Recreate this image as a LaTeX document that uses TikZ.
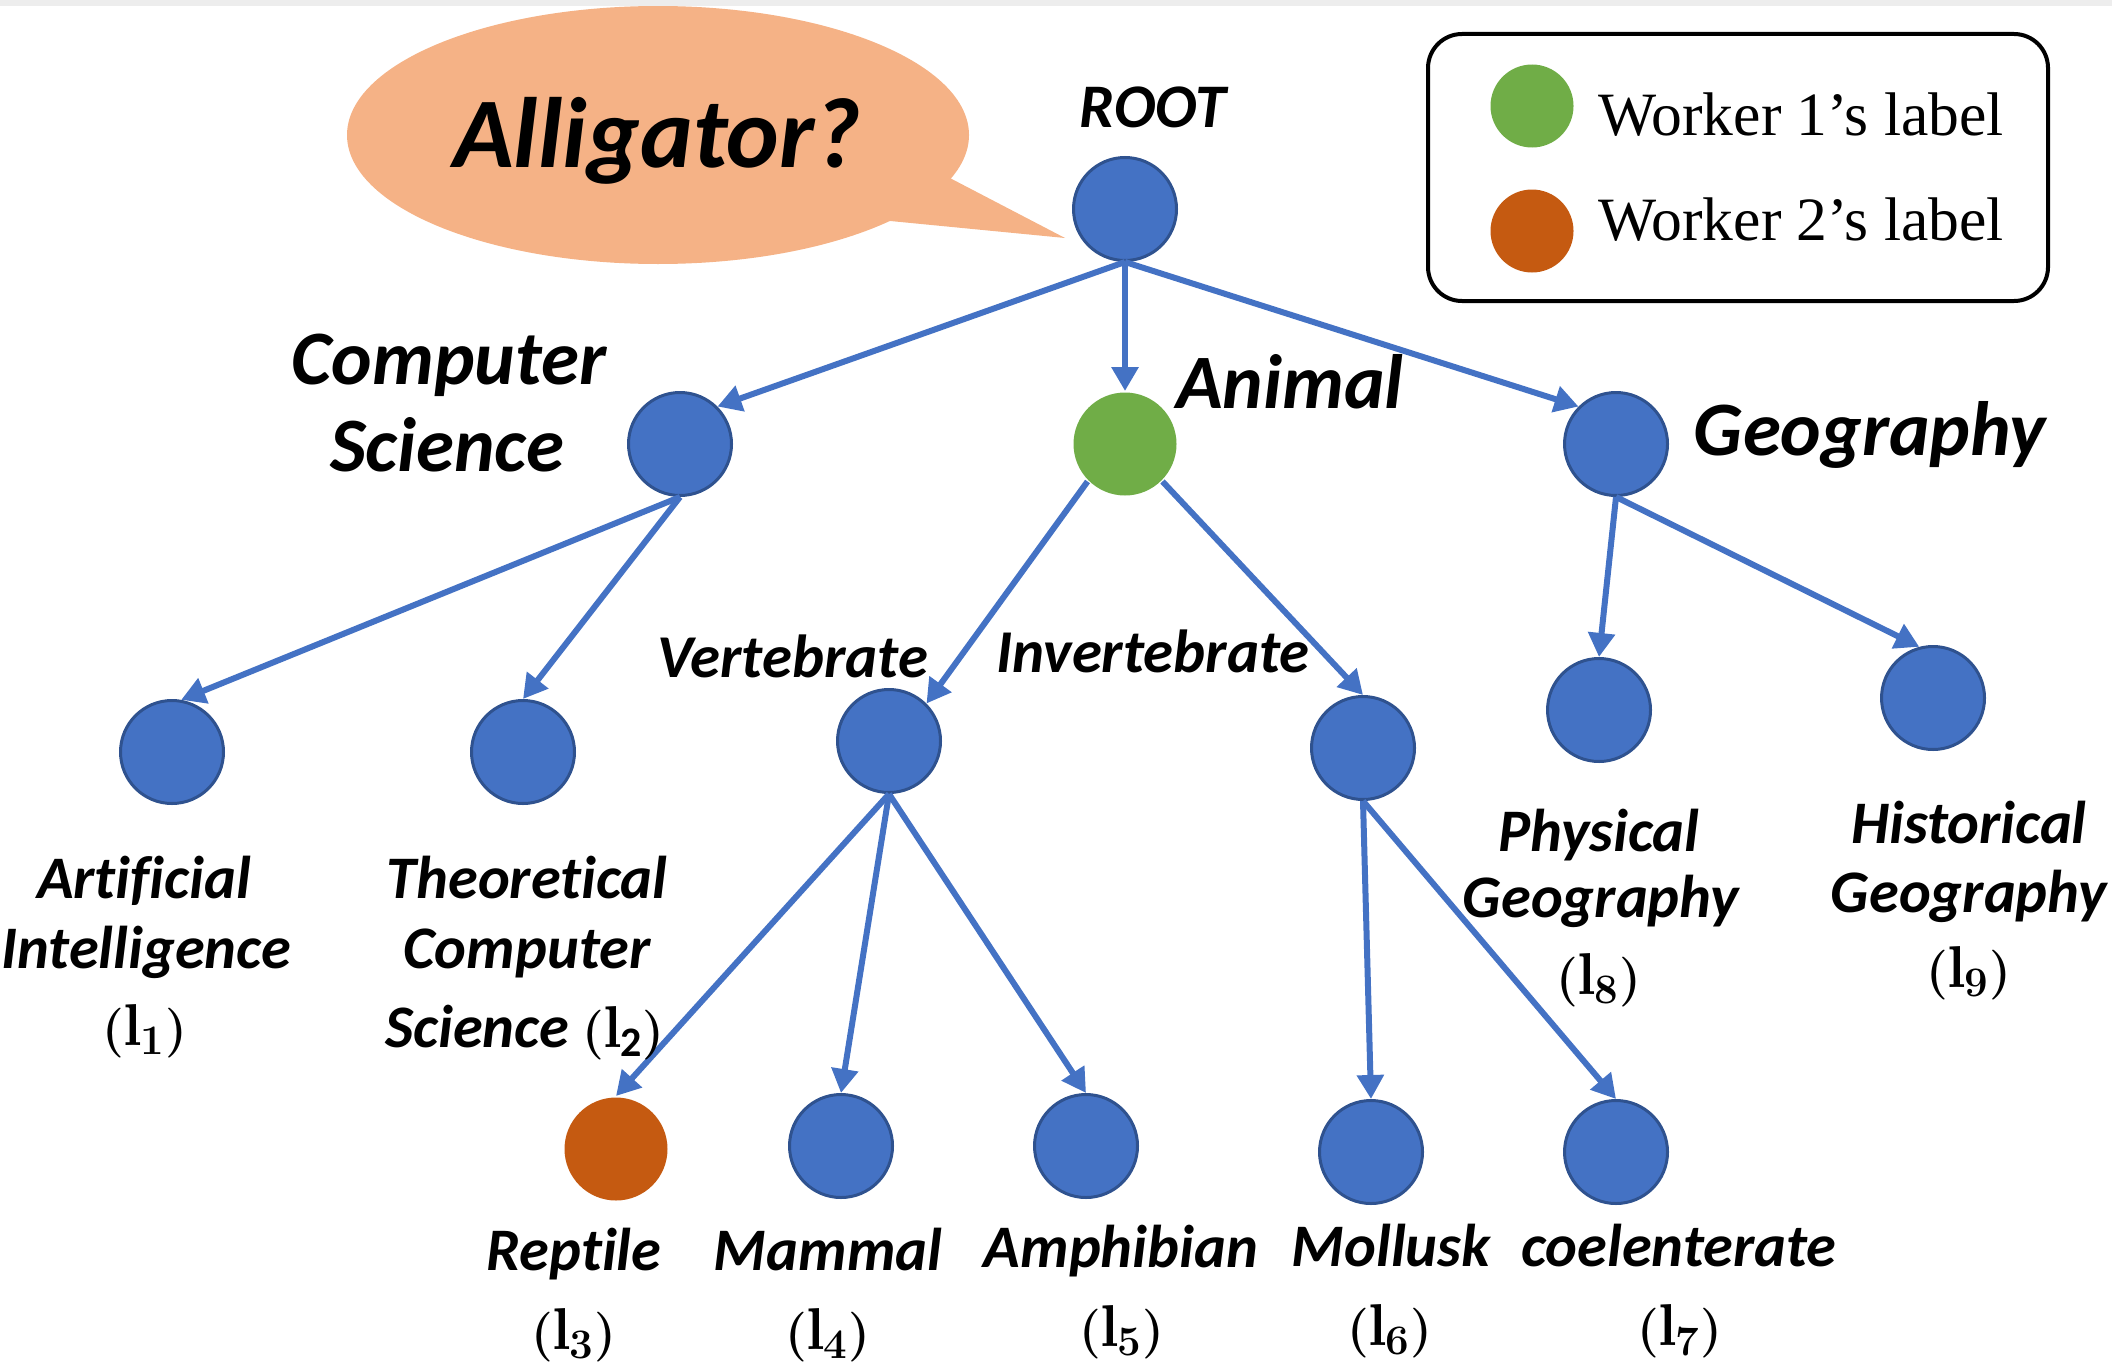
\documentclass[tikz,border=0pt]{standalone}
\usepackage{fontspec}
\newfontfamily\calibf{Carlito}[Ligatures=NoCommon]
\newfontfamily\timesf{Liberation Serif}
\usetikzlibrary{arrows.meta}
\definecolor{nblue}{HTML}{4472C4}
\definecolor{nborder}{HTML}{2F528F}
\definecolor{ngreen}{HTML}{70AD47}
\definecolor{norange}{HTML}{C55A11}
\definecolor{bubblec}{HTML}{F5B286}
\definecolor{bandc}{HTML}{EDEDED}
\newcommand\lidx[1]{{\boldmath$(\mathrm{l}_{\hbox{\fontsize{21}{21}\selectfont\upshape\bfseries #1}})$}}
\begin{document}
\begin{tikzpicture}[x=0.5pt,y=-0.5pt,
  tnode/.style={circle, minimum size=51.5pt, inner sep=0pt, fill=nblue, draw=nborder, line width=1.5pt},
  gnode/.style={tnode, fill=ngreen, draw=none},
  onode/.style={tnode, fill=norange, draw=none},
  edge/.style={draw=nblue, line width=3pt, -{Triangle[length=12pt,width=13pt]}},
  lab/.style={font=\calibf\bfseries\itshape\fontsize{30.2}{31}\selectfont, anchor=base, inner sep=0pt},
  midlab/.style={lab, font=\calibf\bfseries\itshape\fontsize{30.4}{31}\selectfont},
  biglab/.style={lab, font=\calibf\bfseries\itshape\fontsize{38.5}{40}\selectfont},
  idx/.style={anchor=base, inner sep=0pt, font=\fontsize{29.5}{30}\selectfont},
  legtext/.style={anchor=base west, inner sep=0pt, font=\timesf\fontsize{30.8}{31}\selectfont},
  legdot/.style={circle, minimum size=41.5pt, inner sep=0pt, draw=none}
]
\useasboundingbox (0,0) rectangle (2112,1370);
% speech bubble
\fill[bubblec] (658,135) ellipse [x radius=155.5pt, y radius=64.5pt];
\fill[bubblec] (880,220) -- (1065,238) -- (946,176) -- cycle;
\fill[bandc] (0,0) rectangle (2112,6);
\node[lab, font=\calibf\bfseries\itshape\fontsize{50}{50}\selectfont] (alli) at (657,167) {Alligator?};

% legend
\draw[line width=2pt, rounded corners=17pt] (1428,34) rectangle (2048,301);
\node[legdot, fill=ngreen] (l1dot) at (1532,106) {};
\node[legdot, fill=norange] (l2dot) at (1532,231) {};
\node[legtext] (l1txt) at (1598,135) {Worker 1’s label};
\node[legtext] (l2txt) at (1598,240) {Worker 2’s label};

% tree nodes
\node[tnode] (root) at (1125,209) {};
\node[tnode] (cs) at (680,444) {};
\node[gnode] (animal) at (1125,444) {};
\node[tnode] (geo) at (1616,444) {};
\node[tnode] (ai) at (172,752) {};
\node[tnode] (tcs) at (523,752) {};
\node[tnode] (vert) at (889,741) {};
\node[tnode] (invert) at (1363,748) {};
\node[tnode] (phys) at (1599,710) {};
\node[tnode] (hist) at (1933,698) {};
\node[onode] (rep) at (616,1149) {};
\node[tnode] (mam) at (841,1146) {};
\node[tnode] (amp) at (1086,1146) {};
\node[tnode] (mol) at (1371,1152) {};
\node[tnode] (coe) at (1616,1152) {};

% edges
\draw[edge] (root.south) -- (cs.45);
\draw[edge] (root.south) -- (animal.north);
\draw[edge] (root.south) -- (geo.135);
\draw[edge] (cs.south) -- (ai.80);
\draw[edge] (cs.south) -- (tcs.north);
\draw[edge] (animal.225) -- (vert.45);
\draw[edge] (animal.-45) -- (invert.north);
\draw[edge] (geo.south) -- (phys.north);
\draw[edge] (geo.south) -- (hist.105);
\draw[edge] (vert.south) -- (rep.north);
\draw[edge] (vert.south) -- (mam.north);
\draw[edge] (vert.south) -- (amp.north);
\draw[edge] (invert.south) -- (mol.north);
\draw[edge] (invert.south) -- (coe.north);

% labels
\node[midlab, font=\calibf\bfseries\itshape\fontsize{31}{31}\selectfont] (rootlab) at (1153,127) {ROOT};
\node[biglab] (cslab1) at (449,384) {Computer};
\node[biglab] (cslab2) at (447,471) {Science};
\node[biglab] (animallab) at (1290,408) {Animal};
\node[biglab] (geolab) at (1870,455) {Geography};
\node[midlab] (vertlab) at (793,677) {Vertebrate};
\node[midlab] (invertlab) at (1153,672) {Invertebrate};

\node[lab] (ailab1) at (144,898) {Artificial};
\node[lab] (ailab2) at (146,968) {Intelligence};
\node[idx] (ailab3) at (145,1045) {\lidx{1}};

\node[lab] (tcslab1) at (527,898) {Theoretical};
\node[lab] (tcslab2) at (527,968) {Computer};
\node[lab] (tcslab3) at (525,1047) {Science \fontsize{29.5}{30}\selectfont\upshape\mdseries\lidx{2}};

\node[lab] (physlab1) at (1599,851) {Physical};
\node[lab] (physlab2) at (1601,917) {Geography};
\node[idx] (physlab3) at (1599,994) {\lidx{8}};

\node[lab] (histlab1) at (1969,843) {Historical};
\node[lab] (histlab2) at (1969,912) {Geography};
\node[idx] (histlab3) at (1969,987) {\lidx{9}};

\node[lab] (replab1) at (574,1270) {Reptile};
\node[idx] (replab2) at (574,1349) {\lidx{3}};
\node[lab] (mamlab1) at (828,1270) {Mammal};
\node[idx] (mamlab2) at (828,1349) {\lidx{4}};
\node[lab] (amplab1) at (1121,1267) {Amphibian};
\node[idx] (amplab2) at (1122,1346) {\lidx{5}};
\node[lab] (mollab1) at (1391,1266) {Mollusk};
\node[idx] (mollab2) at (1390,1345) {\lidx{6}};
\node[lab] (coelab1) at (1679,1266) {coelenterate};
\node[idx] (coelab2) at (1680,1345) {\lidx{7}};
\end{tikzpicture}
\end{document}
